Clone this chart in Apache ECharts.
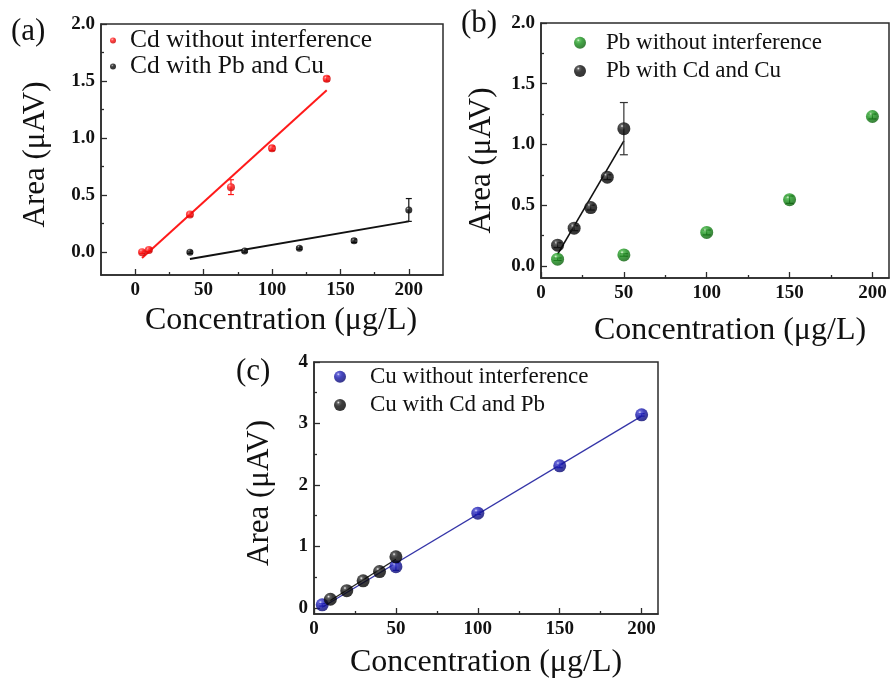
<!DOCTYPE html>
<html>
<head>
<meta charset="utf-8">
<script src="https://cdn.jsdelivr.net/npm/echarts@6/dist/echarts.min.js"></script>
<style>
  html, body { margin: 0; padding: 0; background: #ffffff; }
  #chart { width: 891px; height: 680px; }
</style>
</head>
<body>
<div id="chart"></div>
<script>
// ---- (a) Cd ----
const cdConc = [5, 10, 40, 70, 100, 140];
const cdArea = [0.00, 0.02, 0.33, 0.57, 0.91, 1.52];
const cdErr = [0.01, 0.015, 0.015, 0.065, 0.02, 0.02];
const cdMixConc = [40, 80, 120, 160, 200];
const cdMixArea = [0.00, 0.01, 0.035, 0.10, 0.37];
const cdMixErr = [0.01, 0.01, 0.01, 0.015, 0.10];
const cdFitConc = [5, 140];
const cdFitArea = [-0.05, 1.42];
const cdMixFitConc = [40, 200];
const cdMixFitArea = [-0.06, 0.27];

// ---- (b) Pb ----
const pbConc = [10, 50, 100, 150, 200];
const pbArea = [0.055, 0.09, 0.275, 0.545, 1.23];
const pbErr = [0.01, 0.01, 0.02, 0.03, 0.02];
const pbMixConc = [10, 20, 30, 40, 50];
const pbMixArea = [0.17, 0.31, 0.48, 0.73, 1.13];
const pbMixErr = [0.02, 0.02, 0.02, 0.02, 0.215];
const pbMixFitConc = [10, 50];
const pbMixFitArea = [0.095, 1.03];

// ---- (c) Cu ----
const cuConc = [5, 50, 100, 150, 200];
const cuArea = [0.05, 0.67, 1.54, 2.31, 3.14];
const cuErr = [0.02, 0.06, 0.02, 0.03, 0.02];
const cuMixConc = [10, 20, 30, 40, 50];
const cuMixArea = [0.14, 0.28, 0.44, 0.59, 0.83];
const cuFitConc = [5, 200];
const cuFitArea = [0.01, 3.12];
const cuMixFitConc = [10, 50];
const cuMixFitArea = [0.12, 0.79];

// ---- tick positions ----
const concMajor = [0, 50, 100, 150, 200];
const concMinor = [25, 75, 125, 175];
const areaMajor = [0, 0.5, 1.0, 1.5, 2.0];
const areaMinor = [0.25, 0.75, 1.25, 1.75];
const cuAreaMajor = [0, 1, 2, 3, 4];
const cuAreaMinor = [0.5, 1.5, 2.5, 3.5];

const panelLabels = ['(a)', '(b)', '(c)'];
const xTitle = 'Concentration (\u03bcg/L)';
const yTitle = 'Area (\u03bcAV)';

const SERIF = '"Liberation Serif", "Times New Roman", serif';
const AXIS_COLOR = '#2b2b2b';

const zip = (xs, ys) => xs.map((x, i) => [x, ys[i]]);
const zip3 = (xs, ys, es) => xs.map((x, i) => [x, ys[i], es[i]]);

// shaded sphere fill: small bright highlight towards the upper left
function sphere(light, mid, base, dark) {
  return {
    type: 'radial', x: 0.36, y: 0.3, r: 0.75,
    colorStops: [
      { offset: 0, color: light },
      { offset: 0.16, color: mid },
      { offset: 0.42, color: base },
      { offset: 1, color: dark }
    ]
  };
}
const RED = sphere('#ffd0d0', '#ff5050', '#ff0f0f', '#c00000');
const BLACK = sphere('#f0f0f0', '#3a3a3a', '#0c0c0c', '#000000');
const GREEN = sphere('#dcf7d4', '#3fb13f', '#17901a', '#085c08');
const BLUE = sphere('#d6d6ff', '#4040cc', '#1616ac', '#06066a');

const grids = [
  { left: 101, top: 24, width: 342, height: 251 },
  { left: 541, top: 23, width: 348, height: 255 },
  { left: 314, top: 362, width: 344, height: 252 }
].map(g => Object.assign(g, {
  show: true, borderColor: AXIS_COLOR, borderWidth: 1.5, backgroundColor: 'transparent'
}));

function majorX(grid, min, max, nameGap, nameShift) {
  return {
    type: 'value', gridIndex: grid, min: min, max: max, position: 'bottom',
    axisLine: { show: true, onZero: false, lineStyle: { color: AXIS_COLOR, width: 1.5 } },
    axisTick: { show: true, inside: true, length: 6, customValues: concMajor,
      lineStyle: { color: AXIS_COLOR, width: 1.3 } },
    axisLabel: { customValues: concMajor, margin: 6, color: '#111',
      fontFamily: SERIF, fontWeight: 'bold', fontSize: 19 },
    splitLine: { show: false },
    name: xTitle, nameLocation: 'middle', nameGap: nameGap,
    nameTextStyle: { fontFamily: SERIF, fontSize: 32, color: '#111',
      padding: [0, 0, 0, nameShift] }
  };
}
function minorX(grid, min, max) {
  return {
    type: 'value', gridIndex: grid, min: min, max: max, position: 'bottom',
    axisLine: { show: false, onZero: false },
    axisTick: { show: true, inside: true, length: 3, customValues: concMinor,
      lineStyle: { color: AXIS_COLOR, width: 1.3 } },
    axisLabel: { show: false }, splitLine: { show: false }
  };
}
function majorY(grid, min, max, ticks, digits, nameGap, nameShift) {
  return {
    type: 'value', gridIndex: grid, min: min, max: max, position: 'left',
    axisLine: { show: true, onZero: false, lineStyle: { color: AXIS_COLOR, width: 1.5 } },
    axisTick: { show: true, inside: true, length: 6, customValues: ticks,
      lineStyle: { color: AXIS_COLOR, width: 1.3 } },
    axisLabel: { customValues: ticks, margin: 6, color: '#111',
      fontFamily: SERIF, fontWeight: 'bold', fontSize: 19,
      formatter: v => Number(v).toFixed(digits) },
    splitLine: { show: false },
    name: yTitle, nameLocation: 'middle', nameGap: nameGap,
    nameTextStyle: { fontFamily: SERIF, fontSize: 31, color: '#111',
      padding: [0, nameShift, 0, 0] }
  };
}
function minorY(grid, min, max, ticks) {
  return {
    type: 'value', gridIndex: grid, min: min, max: max, position: 'left',
    axisLine: { show: false, onZero: false },
    axisTick: { show: true, inside: true, length: 3, customValues: ticks,
      lineStyle: { color: AXIS_COLOR, width: 1.3 } },
    axisLabel: { show: false }, splitLine: { show: false }
  };
}

const xAxes = [
  majorX(0, -25, 225, 30, 18), majorX(1, 0, 210, 37, 30), majorX(2, 0, 210, 33, 0),
  minorX(0, -25, 225), minorX(1, 0, 210), minorX(2, 0, 210)
];
const yAxes = [
  majorY(0, -0.2, 2.0, areaMajor, 1, 50, 10),
  majorY(1, -0.1, 2.0, areaMajor, 1, 44, 20),
  majorY(2, -0.1, 4, cuAreaMajor, 0, 39, 10),
  minorY(0, -0.2, 2.0, areaMinor), minorY(1, -0.1, 2.0, areaMinor), minorY(2, -0.1, 4, cuAreaMinor)
];

function scatter(name, idx, xs, ys, fill, size) {
  return {
    name: name, type: 'scatter', xAxisIndex: idx, yAxisIndex: idx,
    data: zip(xs, ys), symbol: 'circle', symbolSize: size,
    itemStyle: { color: fill }, z: 5
  };
}
function fit(idx, xs, ys, color, width) {
  return {
    type: 'line', xAxisIndex: idx, yAxisIndex: idx, data: zip(xs, ys),
    showSymbol: false, symbol: 'none', silent: true,
    lineStyle: { color: color, width: width }, z: 3
  };
}
function errorBars(idx, xs, ys, es, color, cap) {
  return {
    type: 'custom', xAxisIndex: idx, yAxisIndex: idx, silent: true, z: 4,
    data: zip3(xs, ys, es),
    renderItem: function (params, api) {
      const x = api.value(0), y = api.value(1), e = api.value(2);
      const hi = api.coord([x, y + e]);
      const lo = api.coord([x, y - e]);
      const st = { stroke: color, lineWidth: 1.2 };
      return {
        type: 'group',
        children: [
          { type: 'line', shape: { x1: hi[0], y1: hi[1], x2: lo[0], y2: lo[1] }, style: st },
          { type: 'line', shape: { x1: hi[0] - cap, y1: hi[1], x2: hi[0] + cap, y2: hi[1] }, style: st },
          { type: 'line', shape: { x1: lo[0] - cap, y1: lo[1], x2: lo[0] + cap, y2: lo[1] }, style: st }
        ]
      };
    }
  };
}

const series = [
  fit(0, cdFitConc, cdFitArea, '#ff1a1a', 2),
  fit(0, cdMixFitConc, cdMixFitArea, '#111111', 2),
  errorBars(0, cdConc, cdArea, cdErr, '#ff1a1a', 3),
  errorBars(0, cdMixConc, cdMixArea, cdMixErr, '#111111', 3),
  scatter('Cd without interference', 0, cdConc, cdArea, RED, 8),
  scatter('Cd with Pb and Cu', 0, cdMixConc, cdMixArea, BLACK, 7),

  fit(1, pbMixFitConc, pbMixFitArea, '#111111', 1.6),
  errorBars(1, pbConc, pbArea, pbErr, '#333333', 4),
  errorBars(1, pbMixConc, pbMixArea, pbMixErr, '#333333', 4),
  scatter('Pb without interference', 1, pbConc, pbArea, GREEN, 13),
  scatter('Pb with Cd and Cu', 1, pbMixConc, pbMixArea, BLACK, 13),

  fit(2, cuFitConc, cuFitArea, '#3535a8', 1.3),
  fit(2, cuMixFitConc, cuMixFitArea, '#222222', 1.3),
  errorBars(2, cuConc, cuArea, cuErr, '#2a2ab0', 3),
  scatter('Cu without interference', 2, cuConc, cuArea, BLUE, 13),
  scatter('Cu with Cd and Pb', 2, cuMixConc, cuMixArea, BLACK, 13)
];

function legend(names, left, top, icon, font, lineH, pad) {
  return {
    data: names, orient: 'vertical', left: left, top: top, padding: 0,
    itemGap: 0, itemWidth: icon, itemHeight: icon, icon: 'circle',
    selectedMode: false,
    textStyle: { fontFamily: SERIF, fontSize: font, lineHeight: lineH, color: '#111',
      padding: [0, 0, 0, pad] }
  };
}

const titles = [
  { left: 11, top: 16 }, { left: 461, top: 8 }, { left: 236, top: 356 }
].map((p, i) => ({
  text: panelLabels[i], left: p.left, top: p.top, padding: 0,
  textStyle: { fontFamily: SERIF, fontSize: 31, fontWeight: 'normal', color: '#111' }
}));

const chart = echarts.init(document.getElementById('chart'), null, { renderer: 'canvas' });
chart.setOption({
  animation: false,
  backgroundColor: '#ffffff',
  title: titles,
  grid: grids,
  xAxis: xAxes,
  yAxis: yAxes,
  legend: [
    legend(['Cd without interference', 'Cd with Pb and Cu'], 110, 27.5, 6, 25.5, 25, 9),
    legend(['Pb without interference', 'Pb with Cd and Cu'], 574, 28.5, 12, 23, 28.3, 15),
    legend(['Cu without interference', 'Cu with Cd and Pb'], 334, 362.5, 12, 23, 28.3, 19)
  ],
  series: series
});
</script>
</body>
</html>
